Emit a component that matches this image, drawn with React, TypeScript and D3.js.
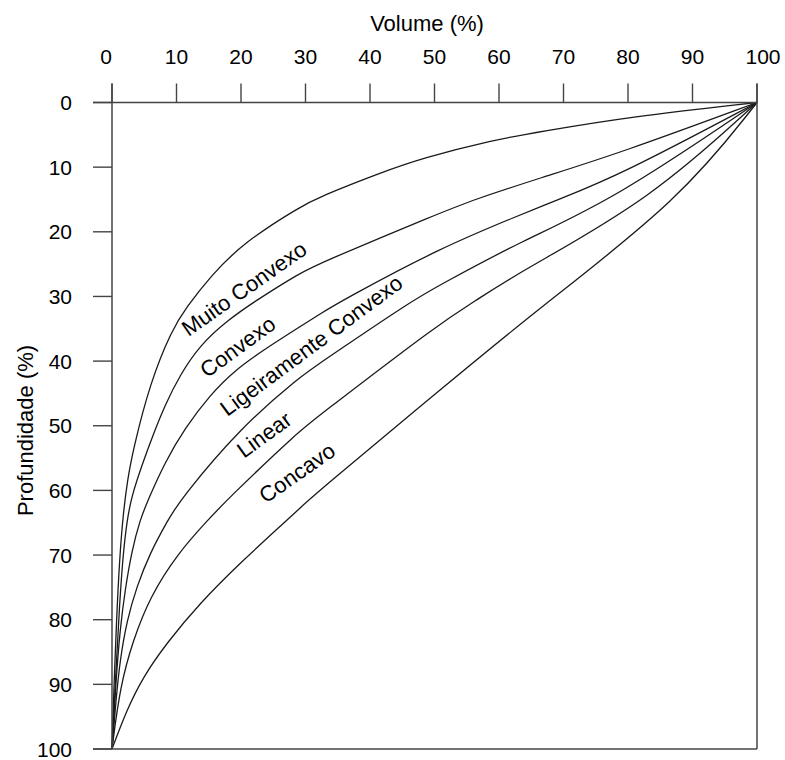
import React from 'react';
import * as d3 from 'd3';

const W = 785;
const H = 760;

const xTicks = [0, 10, 20, 30, 40, 50, 60, 70, 80, 90, 100];
const yTicks = [0, 10, 20, 30, 40, 50, 60, 70, 80, 90, 100];

// [volume %, depth %]
const muitoConvexo: [number, number][] = [
  [0, 100], [0.31, 90.1], [0.7, 80.05], [1.16, 70.77], [1.71, 63.81], [2.4, 58.39],
  [3.26, 53.75], [5.89, 43.39], [9.26, 35.19], [11.47, 31.79], [15.19, 26.95],
  [20.31, 21.73], [29.15, 16.12], [32.25, 14.57], [41.55, 10.9], [48.22, 8.58],
  [59.07, 5.8], [66.36, 4.52], [80.31, 2.2], [100, 0],
];
const convexo: [number, number][] = [
  [0, 100], [0.62, 87.78], [1.16, 77.73], [1.71, 69.99], [2.33, 64.58], [3.1, 60.71],
  [4.65, 56.07], [6.36, 51.43], [8.22, 46.79], [10.54, 42.15], [13.64, 37.51],
  [17.98, 33.64], [22.43, 30.55], [29.15, 26.37], [32.25, 24.83], [50.85, 17.09],
  [55.97, 15.08], [66.36, 11.68], [78.76, 7.81], [100, 0],
];
const ligeiramenteConvexo: [number, number][] = [
  [0, 100], [0.62, 89.33], [1.24, 81.59], [2.02, 75.41], [3.1, 69.22], [4.34, 64.58],
  [5.58, 61.48], [8.22, 55.61], [11.32, 50.35], [15.19, 45.24], [19.07, 41.38],
  [23.72, 38.13], [29.15, 34.68], [32.25, 32.71], [35.81, 30.55], [50.85, 22.51],
  [63.26, 17.4], [68.99, 15.08], [78.76, 11.21], [100, 0],
];
const linear: [number, number][] = [
  [0, 100], [0.62, 92.4], [1.24, 86.23], [2.33, 80.05], [3.83, 74.9], [5.89, 69.68],
  [8.68, 64.58], [10.54, 61.48], [19.84, 50.35], [29.15, 42.41], [32.25, 40.29],
  [46.67, 30.55], [50.85, 28.23], [63.26, 21.53], [77.67, 15.08], [100, 0],
];
const concavo: [number, number][] = [
  [0, 100], [1.24, 90.36], [3.26, 83.2], [5.89, 76.44], [10.23, 69.68], [14.88, 64.58],
  [17.78, 61.48], [29.15, 50.66], [32.25, 48.34], [50.85, 34.11], [56.54, 30.55],
  [63.26, 26.17], [83.41, 15.08], [100, 0],
];
const muitoConcavo: [number, number][] = [
  [0, 100], [2.28, 93.97], [4.81, 88.86], [8.48, 83.6], [13.64, 77.42], [19.84, 71.23],
  [27.13, 64.58], [29.15, 62.72], [32.25, 59.94], [50.85, 44.47], [65.84, 32.1],
  [88.06, 15.08], [100, 0],
];

const curves = [muitoConvexo, convexo, ligeiramenteConvexo, linear, concavo, muitoConcavo];

const labelNames = ['Muito Convexo', 'Convexo', 'Ligeiramente Convexo', 'Linear', 'Concavo'];
const labelVolume = [20.5, 19.5, 30.9, 23.6, 28.7];
const labelDepth = [28.8, 37.8, 37.6, 51.4, 57.3];
const labelAngle = [-35, -36, -36.5, -36, -35];

const FONT = '"Liberation Sans", Arial, Helvetica, sans-serif';

export default function App() {
  const x = d3.scaleLinear().domain([0, 100]).range([112, 757]);
  const y = d3.scaleLinear().domain([0, 100]).range([102.5, 749]);
  const line = d3
    .line<[number, number]>()
    .x((d) => x(d[0]))
    .y((d) => y(d[1]))
    .curve(d3.curveBasis);

  const axisColor = '#444';
  const tickLen = 19;

  return (
    <svg
      width={W}
      height={H}
      style={{ position: 'absolute', left: 0, top: 0, background: '#fff' }}
      fontFamily={FONT}
    >
      <rect x={0} y={0} width={W} height={H} fill="#fff" />
      {curves.map((c, i) => (
        <path key={i} d={line(c) || ''} fill="none" stroke="#1a1a1a" strokeWidth={1.3} />
      ))}
      <line x1={x(0) - tickLen} x2={x(100)} y1={y(0)} y2={y(0)} stroke={axisColor} strokeWidth={1.5} />
      <line x1={x(0)} x2={x(0)} y1={y(0) - tickLen} y2={y(100)} stroke={axisColor} strokeWidth={1.5} />
      <line x1={x(0) - tickLen} x2={x(100)} y1={y(100)} y2={y(100)} stroke={axisColor} strokeWidth={1.5} />
      <line x1={x(100)} x2={x(100)} y1={y(0) - tickLen} y2={y(100)} stroke={axisColor} strokeWidth={1.5} />
      {xTicks.map((t) => (
        <g key={'x' + t}>
          <line x1={x(t)} x2={x(t)} y1={y(0)} y2={y(0) - tickLen} stroke={axisColor} strokeWidth={1.4} />
          <text
            x={x(t)}
            y={64}
            dx={t === 0 ? -6 : t === 100 ? 6 : 0}
            textAnchor="middle"
            fontSize={21}
            fill="#000"
          >
            {t}
          </text>
        </g>
      ))}
      {yTicks.map((t) => (
        <g key={'y' + t}>
          <line x1={x(0)} x2={x(0) - tickLen} y1={y(t)} y2={y(t)} stroke={axisColor} strokeWidth={1.4} />
          <text x={72} y={y(t)} dy="0.36em" textAnchor="end" fontSize={21} fill="#000">
            {t}
          </text>
        </g>
      ))}
      <text x={427} y={31} textAnchor="middle" fontSize={22} fill="#000">
        Volume (%)
      </text>
      <text transform="translate(33,430.5) rotate(-90)" textAnchor="middle" fontSize={22} fill="#000">
        Profundidade (%)
      </text>
      {labelNames.map((n, i) => (
        <text
          key={n}
          transform={`translate(${x(labelVolume[i])},${y(labelDepth[i])}) rotate(${labelAngle[i]})`}
          textAnchor="middle"
          dominantBaseline="central"
          fontSize={22}
          fill="#000"
        >
          {n}
        </text>
      ))}
    </svg>
  );
}
